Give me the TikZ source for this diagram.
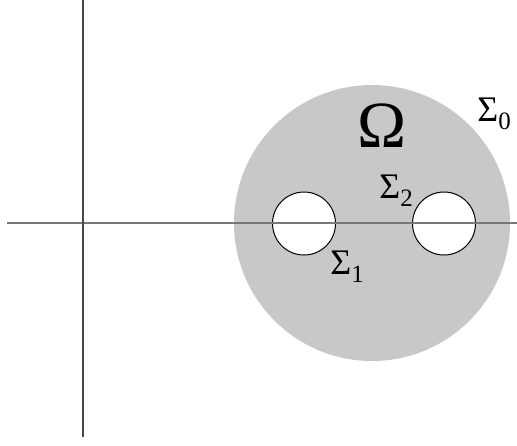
\documentclass[tikz,border=0pt]{standalone}
\usepackage{fontspec}
\setmainfont{Liberation Serif}
\usepackage{tikz}
\usetikzlibrary{positioning}
\definecolor{domgray}{RGB}{200,200,200}
\definecolor{axgray}{RGB}{120,120,120}
\definecolor{axdark}{RGB}{70,70,70}
\newcommand{\sig}[1]{\fontsize{18}{21}\selectfont Σ\raisebox{-4pt}{\fontsize{12.5}{15}\selectfont #1}}

\begin{document}
\begin{tikzpicture}[
  x=0.5pt, y=-0.5pt,
  region/.style={fill=domgray, draw=none},
  hole/.style={fill=white, draw=black, line width=0.5pt},
  axline/.style={line width=0.75pt},
  lab/.style={inner sep=0pt, anchor=base west}
]
  \useasboundingbox (0,0) rectangle (517,445);

  %% --- Domain with two holes ---
  \fill[region] (372,223) circle[radius=138];
  \filldraw[hole] (304,223.5) circle[radius=31.5];
  \filldraw[hole] (444,223.5) circle[radius=31.5];

  %% --- Axes ---
  \coordinate (xl) at (7,223);
  \coordinate (xr) at (517,223);
  \coordinate (yt) at (83,0);
  \coordinate (yb) at (83,437);
  \draw[axline, axgray] (xl) -- (xr);
  \draw[axline, axdark] (yt) -- (yb);

  %% --- Labels ---
  \node[inner sep=0pt, font=\fontsize{33}{40}\selectfont]
    (om) at (382,126) {Ω};
  \node[lab] (s0) at (477,121) {\sig{0}};
  \node[lab] (s2) at (379,198) {\sig{2}};
  \node[lab] (s1) at (330,274) {\sig{1}};
\end{tikzpicture}
\end{document}
